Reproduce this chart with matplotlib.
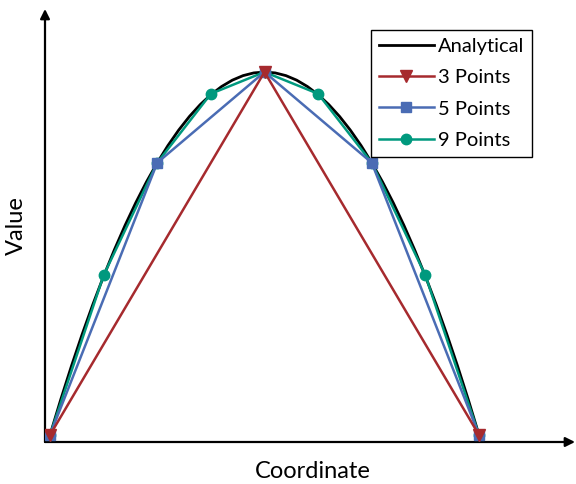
import matplotlib
matplotlib.use('Agg')
import matplotlib.pyplot as plt

plt.rcParams['font.family'] = ['Lato', 'DejaVu Sans']

# --- Data ---
# analytical curve, sampled along x
x_analytic = [0.0, 0.025, 0.05, 0.075, 0.1, 0.125, 0.15, 0.175, 0.2, 0.225,
              0.25, 0.275, 0.3, 0.325, 0.35, 0.375, 0.4, 0.425, 0.45, 0.475,
              0.5, 0.525, 0.55, 0.575, 0.6, 0.625, 0.65, 0.675, 0.7, 0.725,
              0.75, 0.775, 0.8, 0.825, 0.85, 0.875, 0.9, 0.925, 0.95, 0.975, 1.0]
y_analytic = [0.0, 0.0975, 0.19, 0.2775, 0.36, 0.4375, 0.51, 0.5775, 0.64, 0.6975,
              0.75, 0.7975, 0.84, 0.8775, 0.91, 0.9375, 0.96, 0.9775, 0.99, 0.9975,
              1.0, 0.9975, 0.99, 0.9775, 0.96, 0.9375, 0.91, 0.8775, 0.84, 0.7975,
              0.75, 0.6975, 0.64, 0.5775, 0.51, 0.4375, 0.36, 0.2775, 0.19, 0.0975, 0.0]

x_3 = [0.0, 0.5, 1.0]
y_3 = [0.0, 1.0, 0.0]

x_5 = [0.0, 0.25, 0.5, 0.75, 1.0]
y_5 = [0.0, 0.75, 1.0, 0.75, 0.0]

x_9 = [0.0, 0.125, 0.25, 0.375, 0.5, 0.625, 0.75, 0.875, 1.0]
y_9 = [0.0, 0.44, 0.75, 0.94, 1.0, 0.94, 0.75, 0.44, 0.0]

red = '#A62A2E'
blue = '#4A6CB4'
green = '#00997E'

# --- Plotting ---
fig = plt.figure(figsize=(5.76, 4.84), dpi=100)
ax = fig.add_axes([45 / 576, 42 / 484, 530 / 576, 433 / 484])

ax.plot(x_analytic, y_analytic, color='black', lw=2, label='Analytical', zorder=2)
ax.plot(x_3, y_3, color=red, lw=1.8, marker='v', ms=9, label='3 Points', zorder=5)
ax.plot(x_5, y_5, color=blue, lw=1.8, marker='s', ms=7.5, label='5 Points', zorder=4)
ax.plot(x_9, y_9, color=green, lw=1.8, marker='o', ms=7.5, label='9 Points', zorder=3)

ax.set_xlim(-5 / 429, 525 / 429)
ax.set_ylim(-7 / 363, 426 / 363)
ax.set_xticks([])
ax.set_yticks([])
for s in ax.spines.values():
    s.set_visible(False)

# axes drawn as arrows
arrow = dict(arrowstyle='-|>', color='black', lw=1.6, mutation_scale=14,
             shrinkA=0, shrinkB=0)
ax.annotate('', xy=(1, 0), xytext=(0, 0), xycoords='axes fraction', arrowprops=arrow)
ax.annotate('', xy=(0, 1), xytext=(0, 0), xycoords='axes fraction', arrowprops=arrow)

fig.text(313 / 576, 1 - 472 / 484, 'Coordinate', ha='center', va='center', fontsize=17)
fig.text(16 / 576, 1 - 226 / 484, 'Value', ha='center', va='center', fontsize=17,
         rotation=90)

leg = ax.legend(loc='upper right', bbox_to_anchor=(532 / 576, 1 - 30 / 484),
                bbox_transform=fig.transFigure, fontsize=14.5, frameon=True,
                fancybox=False, edgecolor='black', framealpha=1,
                handlelength=2.7, handletextpad=0.2, labelspacing=0.7,
                borderpad=0.4, borderaxespad=0)
leg.get_frame().set_linewidth(1.0)

fig.savefig('out.png', dpi=100)
